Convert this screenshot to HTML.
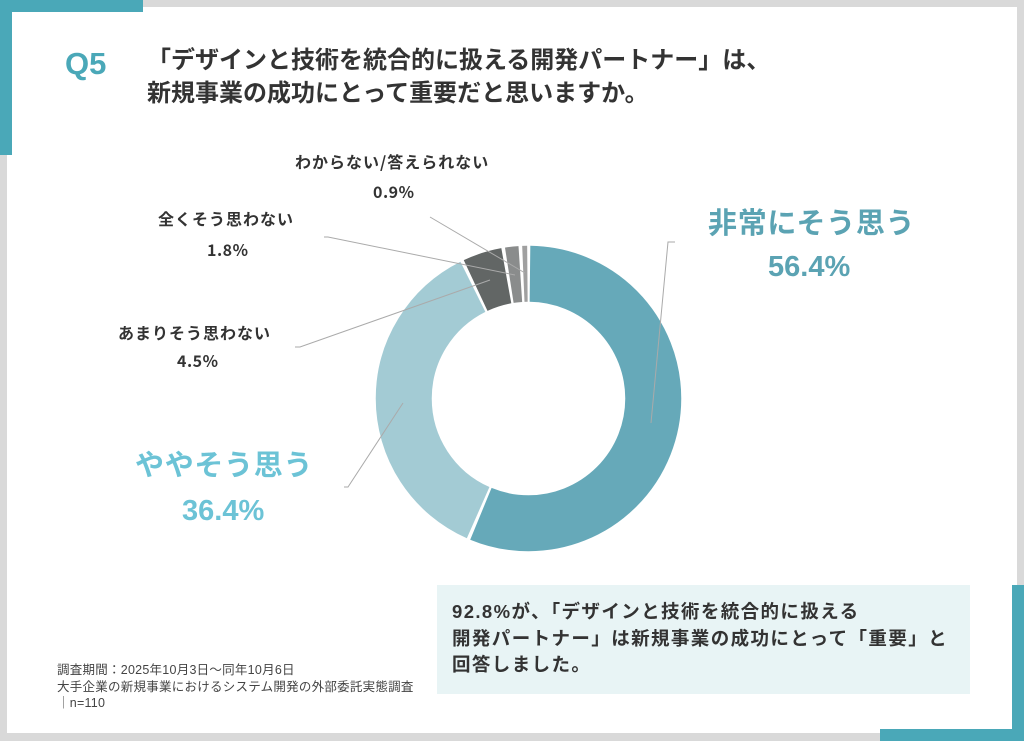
<!DOCTYPE html>
<html><head><meta charset="utf-8"><style>
body{margin:0;width:1024px;height:741px;overflow:hidden;background:#d9d9d9;position:relative;font-family:"Liberation Sans","Noto Sans CJK JP",sans-serif;}
.abs{position:absolute;white-space:nowrap;}
.b{font-weight:bold;color:#333;}
.s{font-size:16px;letter-spacing:1px;font-family:"Noto Sans CJK JP",sans-serif;line-height:20px}
.p{font-size:16px;letter-spacing:0.5px;font-family:"Noto Sans CJK JP",sans-serif;line-height:20px}
</style></head><body>
<div class="abs" style="left:7px;top:7px;width:1010px;height:726px;background:#fff"></div>
<div class="abs" style="left:0;top:0;width:143px;height:12px;background:#4aa8b8"></div>
<div class="abs" style="left:0;top:0;width:12px;height:155px;background:#4aa8b8"></div>
<div class="abs" style="left:1012px;top:585px;width:12px;height:156px;background:#4aa8b8"></div>
<div class="abs" style="left:880px;top:729px;width:144px;height:12px;background:#4aa8b8"></div>

<div class="abs" style="left:65px;top:46px;font-size:31px;font-weight:bold;color:#4aa8b8">Q5</div>
<div class="abs b" style="left:147px;top:44px;font-size:24px;line-height:33px">「デザインと技術を統合的に扱える開発パートナー」は、<br>新規事業の成功にとって重要だと思いますか。</div>

<svg class="abs" style="left:0;top:0" width="1024" height="741">
<g transform="translate(528.5,398.5) rotate(-90)" fill="none" stroke-width="56">
<circle r="124.75" stroke="#66a9b9" stroke-dasharray="439.1 1000" stroke-dashoffset="-1.5"/>
<circle r="124.75" stroke="#a3cbd4" stroke-dasharray="282.3 1000" stroke-dashoffset="-443.6"/>
<circle r="124.75" stroke="#626665" stroke-dasharray="32.3 1000" stroke-dashoffset="-728.9"/>
<circle r="124.75" stroke="#8a8c8c" stroke-dasharray="11.1 1000" stroke-dashoffset="-764.2"/>
<circle r="124.75" stroke="#a0a0a0" stroke-dasharray="4.1 1000" stroke-dashoffset="-778.3"/>
</g>
<g stroke="#aaa" stroke-width="1" fill="none">
<polyline points="651,423 668,242 675,242"/>
<polyline points="403,403 348,487 344,487"/>
<polyline points="490,280 300,347 295,347"/>
<polyline points="515,275 328,237 324,237"/>
<polyline points="525,273 430,217"/>
</g>
</svg>

<div class="abs b s" style="left:295px;top:151px">わからない/答えられない</div>
<div class="abs b p" style="left:373px;top:181px">0.9%</div>
<div class="abs b s" style="left:158px;top:208px">全くそう思わない</div>
<div class="abs b p" style="left:207px;top:239px">1.8%</div>
<div class="abs b s" style="left:118px;top:322px">あまりそう思わない</div>
<div class="abs b p" style="left:177px;top:350px">4.5%</div>

<div class="abs" style="left:708px;top:200px;font-size:29px;font-weight:bold;color:#5ba3b3;letter-spacing:0.7px">非常にそう思う</div>
<div class="abs" style="left:768px;top:251px;font-size:29px;font-weight:bold;color:#5ba3b3">56.4%</div>
<div class="abs" style="left:135px;top:442px;font-size:29px;font-weight:bold;color:#6cc3d6;letter-spacing:0.7px">ややそう思う</div>
<div class="abs" style="left:182px;top:495px;font-size:29px;font-weight:bold;color:#6cc3d6">36.4%</div>

<div class="abs" style="left:437px;top:585px;width:533px;height:109px;background:#e8f4f5"></div>
<div class="abs b" style="left:452px;top:599px;font-size:18.5px;line-height:26.5px;letter-spacing:1.4px">92.8%が、「デザインと技術を統合的に扱える<br>開発パートナー」は新規事業の成功にとって「重要」と<br>回答しました。</div>

<div class="abs" style="left:57px;top:662px;font-size:12.5px;line-height:16.5px;color:#444;letter-spacing:0.25px">調査期間：2025年10月3日〜同年10月6日<br>大手企業の新規事業におけるシステム開発の外部委託実態調査<br>｜n=110</div>
</body></html>
